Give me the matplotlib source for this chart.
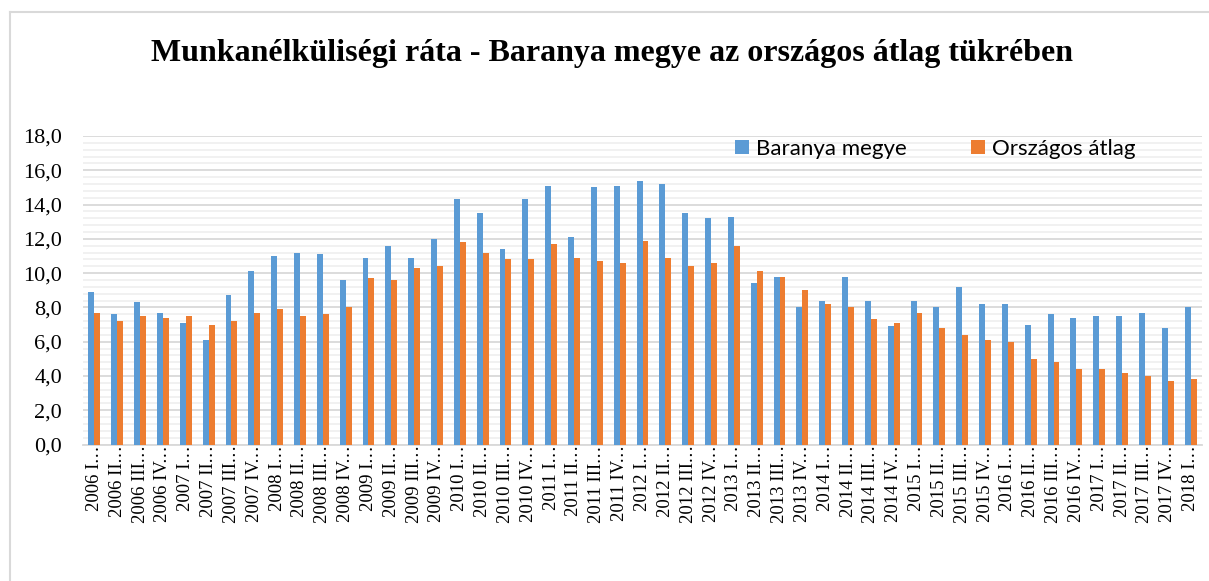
import matplotlib
matplotlib.use('Agg')
import matplotlib.pyplot as plt
from matplotlib.ticker import MultipleLocator, FuncFormatter
from matplotlib.lines import Line2D
import numpy as np

plt.rcParams['font.family'] = ['Liberation Serif', 'DejaVu Serif']

# Data
years = [2006, 2007, 2008, 2009, 2010, 2011, 2012, 2013, 2014, 2015, 2016, 2017]
quarters = ['I', 'II', 'III', 'IV']
periods = [f'{y} {q}' for y in years for q in quarters] + ['2018 I']

baranya = [8.9, 7.6, 8.3, 7.7, 7.1, 6.1, 8.7, 10.1, 11.0, 11.2, 11.1, 9.6,
           10.9, 11.6, 10.9, 12.0, 14.3, 13.5, 11.4, 14.3, 15.1, 12.1, 15.0, 15.1,
           15.4, 15.2, 13.5, 13.2, 13.3, 9.4, 9.8, 8.0, 8.4, 9.8, 8.4, 6.9,
           8.4, 8.0, 9.2, 8.2, 8.2, 7.0, 7.6, 7.4, 7.5, 7.5, 7.7, 6.8, 8.0]
orszagos = [7.7, 7.2, 7.5, 7.4, 7.5, 7.0, 7.2, 7.7, 7.9, 7.5, 7.6, 8.0,
            9.7, 9.6, 10.3, 10.4, 11.8, 11.2, 10.8, 10.8, 11.7, 10.9, 10.7, 10.6,
            11.9, 10.9, 10.4, 10.6, 11.6, 10.1, 9.8, 9.0, 8.2, 8.0, 7.3, 7.1,
            7.7, 6.8, 6.4, 6.1, 6.0, 5.0, 4.8, 4.4, 4.4, 4.2, 4.0, 3.7, 3.8]

series_names = ['Baranya megye', 'Országos átlag']
colors = ['#5B9BD5', '#ED7D31']
title = 'Munkanélküliségi ráta - Baranya megye az országos átlag tükrében'

W, H = 1209, 581
fig = plt.figure(figsize=(W / 100, H / 100), dpi=100)

# chart area border (top + left only visible)
fig.add_artist(Line2D([10 / W, 10 / W], [0, 1 - 12 / H], color='#d9d9d9', lw=1.5))
fig.add_artist(Line2D([10 / W, 1], [1 - 12 / H, 1 - 12 / H], color='#d9d9d9', lw=1.5))

fig.text(612 / W, 1 - 53 / H, title, ha='center', va='center',
         fontsize=23, fontweight='bold')

ax = fig.add_axes([83 / W, 136.5 / H, (1202 - 83) / W, (444.5 - 136) / H])

x = np.arange(len(periods))
bw = 0.26
ax.bar(x - bw / 2, baranya, bw, color=colors[0], label=series_names[0], zorder=3)
ax.bar(x + bw / 2, orszagos, bw, color=colors[1], label=series_names[1], zorder=3)

ax.set_xlim(-0.5, len(periods) - 0.5)
ax.set_ylim(0, 18)
ax.yaxis.set_major_locator(MultipleLocator(2))
ax.yaxis.set_minor_locator(MultipleLocator(0.4))
ax.yaxis.set_major_formatter(FuncFormatter(lambda v, p: f'{v:.1f}'.replace('.', ',')))
ax.grid(axis='y', which='major', color='#d9d9d9', lw=1.3, zorder=0)
ax.grid(axis='y', which='minor', color='#f0f0f0', lw=1.3, zorder=0)

for s in ['top', 'right', 'left']:
    ax.spines[s].set_visible(False)
ax.spines['bottom'].set_color('#d9d9d9')
ax.spines['bottom'].set_linewidth(1.3)

ax.set_xticks(x)
ax.set_xticklabels([p + '.…' for p in periods], rotation=90, va='top', ha='center',
                   fontsize=13.5)
ax.tick_params(axis='x', length=0, pad=-4)
ax.tick_params(axis='y', which='both', length=0, pad=15, labelsize=16)

ax.legend(loc='upper left', bbox_to_anchor=(735 / W, 1 - 139 / H),
          bbox_transform=fig.transFigure, ncol=2, frameon=False,
          prop={'family': 'Lato', 'size': 16}, handlelength=0.63, handleheight=0.63,
          handletextpad=0.3, columnspacing=2.9, borderpad=0, borderaxespad=0)

fig.savefig('out.png', dpi=100)
